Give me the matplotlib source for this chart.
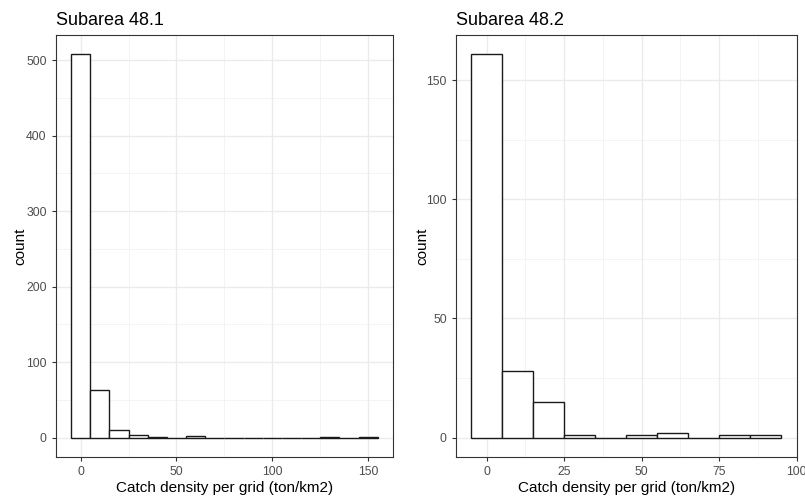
import matplotlib
matplotlib.use("Agg")
import matplotlib.pyplot as plt
import numpy as np

plt.rcParams['font.family'] = ['Liberation Sans', 'DejaVu Sans']

# Histogram bins (width 10, centred on multiples of 10) and counts
bins_481 = [0, 10, 20, 30, 40, 50, 60, 70, 80, 90, 100, 110, 120, 130, 140, 150]
counts_481 = [508, 63, 10, 4, 1, 0, 2, 0, 0, 0, 0, 0, 0, 1, 0, 1]
bins_482 = [0, 10, 20, 30, 40, 50, 60, 70, 80, 90]
counts_482 = [161, 28, 15, 1, 0, 1, 2, 0, 1, 1]

titles = ["Subarea 48.1", "Subarea 48.2"]
xlabel = "Catch density per grid (ton/km2)"
ylabel = "count"

xticks_481 = [0, 50, 100, 150]
yticks_481 = [0, 100, 200, 300, 400, 500]
xticks_482 = [0, 25, 50, 75, 100]
yticks_482 = [0, 50, 100, 150]

W, H = 805, 499
fig = plt.figure(figsize=(W / 100, H / 100), dpi=100)

def make_ax(l, r, t, b):
    return fig.add_axes([l / W, 1 - b / H, (r - l) / W, (b - t) / H])

ax1 = make_ax(55.7, 393, 35, 456.7)
ax2 = make_ax(455.7, 796.5, 35, 456.7)

def style(ax, centers, counts, xt, yt, title, ypad):
    centers = np.array(centers, float)
    counts = np.array(counts, float)
    lo, hi = centers.min() - 5, centers.max() + 5
    pad = 0.05 * (hi - lo)
    ax.set_xlim(lo - pad, hi + pad)
    ymax = counts.max()
    ax.set_ylim(-0.05 * ymax, ymax * 1.05)
    # grid
    xt = np.array(xt, float)
    yt = np.array(yt, float)
    xminor = (xt[:-1] + xt[1:]) / 2
    yminor = (yt[:-1] + yt[1:]) / 2
    for v in xminor:
        ax.axvline(v, color='#f2f2f2', lw=0.6, zorder=0)
    for v in yminor:
        ax.axhline(v, color='#f2f2f2', lw=0.6, zorder=0)
    for v in xt:
        ax.axvline(v, color='#ebebeb', lw=1.0, zorder=0)
    for v in yt:
        ax.axhline(v, color='#ebebeb', lw=1.0, zorder=0)
    ax.bar(centers, counts, width=10, facecolor='white', edgecolor='#1a1a1a',
           linewidth=1.0, zorder=2)
    ax.set_xticks(xt)
    ax.set_yticks(yt)
    ax.set_xticklabels([f"{int(v)}" for v in xt])
    ax.set_yticklabels([f"{int(v)}" for v in yt])
    ax.tick_params(axis='both', colors='#333333', labelcolor='#4d4d4d',
                   labelsize=8.8, length=3, width=0.8)
    for s in ax.spines.values():
        s.set_color('#333333')
        s.set_linewidth(0.8)
    ax.set_xlabel(xlabel, fontsize=11, color='black', labelpad=2)
    ax.set_ylabel(ylabel, fontsize=11, color='black', labelpad=ypad)
    ax.set_title(title, loc='left', fontsize=13, pad=7)

style(ax1, bins_481, counts_481, xticks_481, yticks_481, titles[0], -1)
style(ax2, bins_482, counts_482, xticks_482, yticks_482, titles[1], -2)

fig.savefig("out.png", dpi=100)
